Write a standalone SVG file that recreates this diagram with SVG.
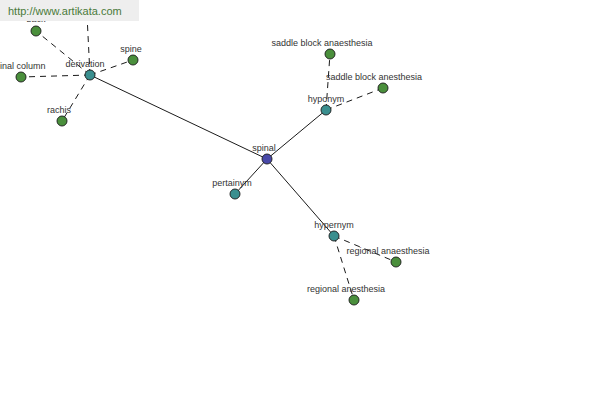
<svg xmlns="http://www.w3.org/2000/svg" width="600" height="400" viewBox="0 0 600 400">
<style>
.e{stroke:#000;stroke-width:0.9;fill:none}
.d{stroke-dasharray:6 5}
.n{stroke:#1a1a1a;stroke-width:0.9}
.g{fill:#4a8f3c}
.t{fill:#3a8f8f}
.b{fill:#4848a8}
text{font-family:"Liberation Sans",Arial,sans-serif;font-size:9px;fill:#333;text-anchor:middle}
</style>
<rect width="600" height="400" fill="#fff"/>
<g id="connectors">
<line class="e" x1="267" y1="159" x2="90" y2="75"/>
<line class="e" x1="267" y1="159" x2="326" y2="110"/>
<line class="e" x1="267" y1="159" x2="235" y2="194"/>
<line class="e" x1="267" y1="159" x2="334" y2="236"/>
<line class="e d" x1="90" y1="75" x2="36" y2="31"/>
<line class="e d" x1="90" y1="75" x2="86" y2="-5"/>
<line class="e d" x1="90" y1="75" x2="21" y2="77"/>
<line class="e d" x1="90" y1="75" x2="133" y2="60"/>
<line class="e d" x1="90" y1="75" x2="62" y2="121"/>
<line class="e d" x1="326" y1="110" x2="330" y2="54"/>
<line class="e d" x1="326" y1="110" x2="383" y2="88"/>
<line class="e d" x1="334" y1="236" x2="396" y2="262"/>
<line class="e d" x1="334" y1="236" x2="354" y2="300"/>
</g>
<g id="node-back"><circle class="n g" cx="36" cy="31" r="5"/><text x="36" y="22">back</text></g>
<g id="node-spinal-column"><circle class="n g" cx="21" cy="77" r="5"/><text x="18" y="69">spinal column</text></g>
<g id="node-spine"><circle class="n g" cx="133" cy="60" r="5"/><text x="131" y="52">spine</text></g>
<g id="node-rachis"><circle class="n g" cx="62" cy="121" r="5"/><text x="59" y="113">rachis</text></g>
<g id="node-derivation"><circle class="n t" cx="90" cy="75" r="5"/><text x="85" y="67">derivation</text></g>
<g id="node-spinal"><circle class="n b" cx="267" cy="159" r="5"/><text x="264" y="151">spinal</text></g>
<g id="node-pertainym"><circle class="n t" cx="235" cy="194" r="5"/><text x="232" y="186">pertainym</text></g>
<g id="node-hyponym"><circle class="n t" cx="326" cy="110" r="5"/><text x="326" y="102">hyponym</text></g>
<g id="node-saddle-block-anaesthesia"><circle class="n g" cx="330" cy="54" r="5"/><text x="322" y="46">saddle block anaesthesia</text></g>
<g id="node-saddle-block-anesthesia"><circle class="n g" cx="383" cy="88" r="5"/><text x="374" y="80">saddle block anesthesia</text></g>
<g id="node-hypernym"><circle class="n t" cx="334" cy="236" r="5"/><text x="334" y="228">hypernym</text></g>
<g id="node-regional-anaesthesia"><circle class="n g" cx="396" cy="262" r="5"/><text x="388" y="254">regional anaesthesia</text></g>
<g id="node-regional-anesthesia"><circle class="n g" cx="354" cy="300" r="5"/><text x="346" y="292">regional anesthesia</text></g>
<g id="watermark"><rect x="0" y="0" width="139" height="21" fill="#eeeeee"/><text x="8" y="15" style="text-anchor:start;font-size:11px;fill:#4a7a3a">http://www.artikata.com</text></g>
</svg>
